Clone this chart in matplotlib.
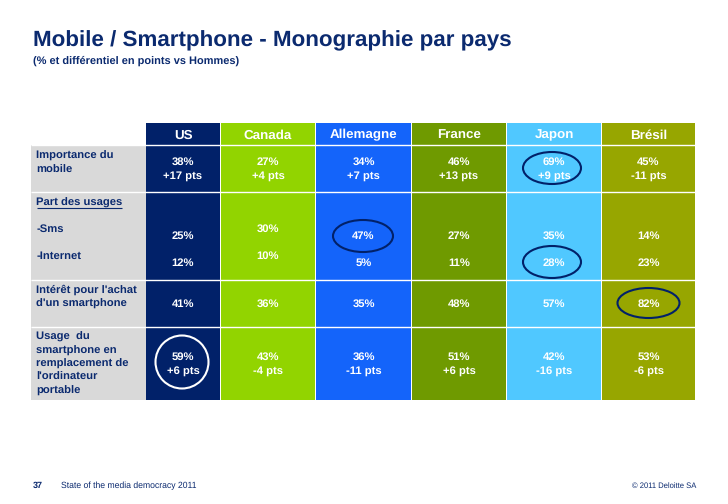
import matplotlib
matplotlib.use('Agg')
import matplotlib.pyplot as plt
from matplotlib.patches import Rectangle, Ellipse

plt.rcParams['font.family'] = ['Liberation Sans', 'DejaVu Sans']
plt.rcParams['text.hinting'] = 'no_hinting'
plt.rcParams['text.hinting_factor'] = 8

NAVY = '#0b2a6f'

# data
pays = ['US', 'Canada', 'Allemagne', 'France', 'Japon', 'Brésil']
couleurs = ['#012169', '#92d400', '#1464fa', '#6f9a00', '#50c8ff', '#97a600']
importance = ['38%\n+17 pts', '27%\n+4 pts', '34%\n+7 pts', '46%\n+13 pts', '69%\n+9 pts', '45%\n-11 pts']
sms = ['25%', '30%', '47%', '27%', '35%', '14%']
internet = ['12%', '10%', '5%', '11%', '28%', '23%']
interet = ['41%', '36%', '35%', '48%', '57%', '82%']
usage = ['59%\n+6 pts', '43%\n-4 pts', '36%\n-11 pts', '51%\n+6 pts', '42%\n-16 pts', '53%\n-6 pts']

# layout in image pixels
col_edges = [146, 221, 316, 412, 507, 602, 696]
row_edges = [145, 191.5, 279.5, 326.5, 400]

fig = plt.figure(figsize=(7.28, 5.04), dpi=100)
ax = fig.add_axes([0, 0, 1, 1])
ax.set_xlim(0, 728)
ax.set_ylim(504, 0)
ax.axis('off')

# title
ax.text(33, 40.5, 'Mobile / Smartphone - Monographie par pays', color=NAVY, fontsize=16.1,
        fontweight='bold', va='center')
ax.text(33, 60.5, '(% et différentiel en points vs Hommes)', color=NAVY, fontsize=7.9,
        fontweight='bold', va='center')

# colour columns
for i, (p, c) in enumerate(zip(pays, couleurs)):
    x0, x1 = col_edges[i], col_edges[i + 1]
    ax.add_patch(Rectangle((x0, 123), x1 - x0 - 1, 277, color=c, lw=0))
    ax.text((x0 + x1) / 2 - 0.5, 138.6, p, color='white', fontsize=9.6, fontweight='bold',
            ha='center', va='baseline')

# row labels background
for y0, y1 in zip(row_edges[:-1], row_edges[1:]):
    ax.add_patch(Rectangle((31, y0), 115, y1 - y0, color='#d9d9d9', lw=0))

# white row separators
ax.hlines([144.5] + row_edges[1:-1], 31, 696, color='white', lw=1)
ax.add_patch(Rectangle((31, 123), 115, 22, color='white', lw=0))

# row labels, one text per line so the pitch stays even
def label(y, txt):
    for k, line in enumerate(txt.split('\n')):
        ax.text(36.5, y + k * 13.4, line, color=NAVY, fontsize=8.1, fontweight='bold', va='baseline')

label(159, 'Importance du\nmobile')
label(206, 'Part des usages')
ax.hlines(207.5, 36.5, 122, color=NAVY, lw=0.8)
label(232, '-Sms')
label(259, '-Internet')
label(293, 'Intérêt pour l\'achat\nd\'un smartphone')
label(340, 'Usage  du\nsmartphone en\nremplacement de\nl\'ordinateur\nportable')

# values
def cell(i, y, txt):
    x = (col_edges[i] + col_edges[i + 1]) / 2 - 0.5
    for k, line in enumerate(txt.split('\n')):
        ax.text(x, y + k * 14, line, color='white', fontsize=8.1, fontweight='bold',
                ha='center', va='baseline')

for i in range(6):
    cell(i, 165, importance[i])
    # Canada sits a bit higher than the others
    cell(i, 232 if i == 1 else 239, sms[i])
    cell(i, 259 if i == 1 else 266, internet[i])
    cell(i, 306.5, interet[i])
    cell(i, 360, usage[i])

# highlights
for cx, cy, w, h in [(552, 168, 58, 32), (363, 236, 60, 32), (552, 262, 58, 32), (648.5, 303, 62, 30)]:
    ax.add_patch(Ellipse((cx, cy), w, h, fill=False, ec='#012169', lw=1.5))
ax.add_patch(Ellipse((182, 362), 53, 53, fill=False, ec='white', lw=1.5))

# footer
ax.text(33, 486, '37', color=NAVY, fontsize=6.5, fontweight='bold', va='center')
ax.text(61, 486, 'State of the media democracy 2011', color=NAVY, fontsize=6.2, va='center')
ax.text(696, 486, '© 2011 Deloitte SA', color=NAVY, fontsize=5.5, ha='right', va='center')

fig.savefig('out.png', dpi=100)
